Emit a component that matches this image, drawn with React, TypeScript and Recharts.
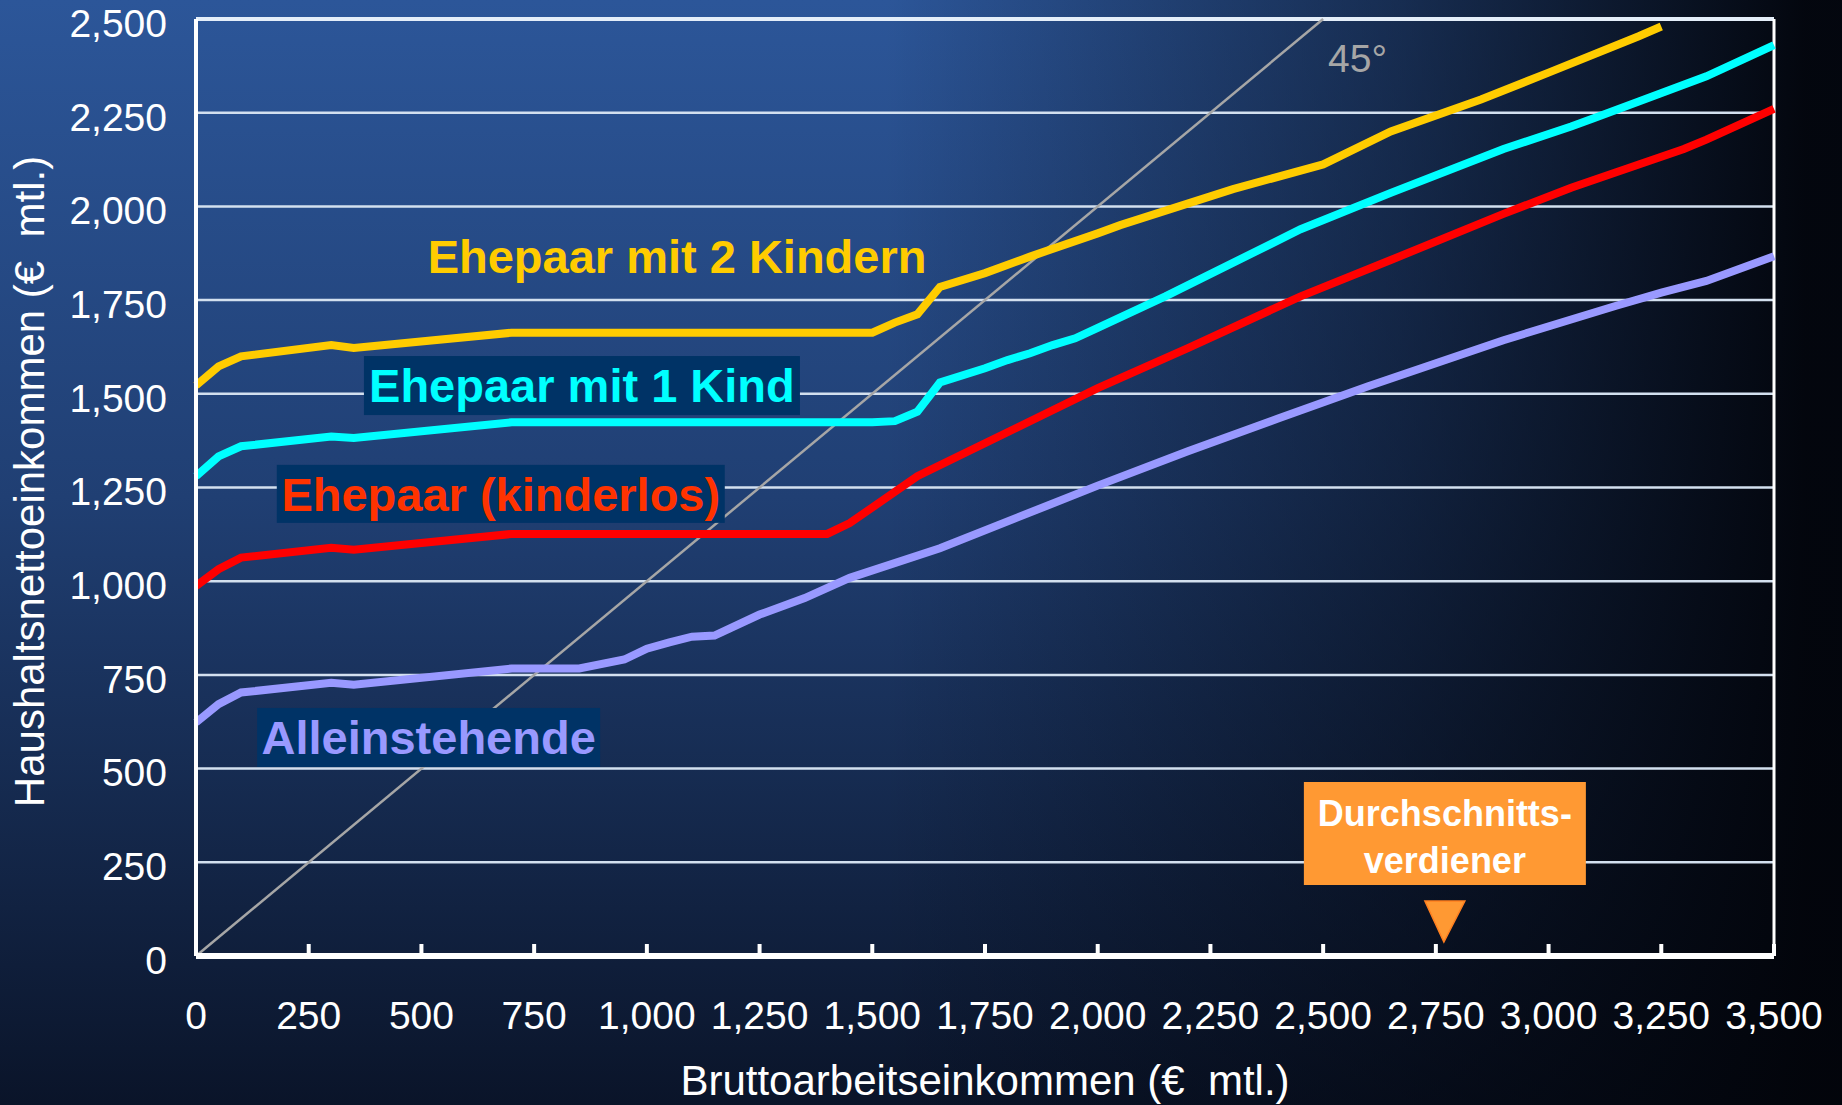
import React from "react";
import {
  LineChart,
  Line,
  XAxis,
  YAxis,
  CartesianGrid,
  ReferenceLine,
  ReferenceDot,
  Label,
} from "recharts";

// Bruttoarbeitseinkommen (x) -> Haushaltsnettoeinkommen (y)
const ehepaarZweiKinder: [number, number][] = [
  [0, 1522], [50, 1573], [100, 1600], [300, 1630], [350, 1622], [700, 1663],
  [1500, 1663], [1550, 1690], [1600, 1712], [1650, 1785], [1750, 1822],
  [1850, 1866], [2000, 1928], [2050, 1950], [2300, 2046], [2500, 2112],
  [2650, 2200], [2850, 2285], [3000, 2357], [3200, 2454], [3250, 2480],
];

const ehepaarEinKind: [number, number][] = [
  [0, 1280], [50, 1333], [100, 1360], [300, 1386], [350, 1382], [700, 1424],
  [1500, 1424], [1550, 1427], [1600, 1452], [1650, 1530], [1750, 1568],
  [1800, 1590], [1850, 1608], [1900, 1630], [1950, 1648], [2000, 1676],
  [2150, 1760], [2450, 1939], [2650, 2036], [2900, 2153], [3050, 2213],
  [3100, 2235], [3200, 2280], [3350, 2347], [3500, 2430],
];

const ehepaarKinderlos: [number, number][] = [
  [0, 987], [50, 1032], [100, 1063], [300, 1089], [350, 1084], [700, 1126],
  [1400, 1126], [1450, 1155], [1600, 1280], [2000, 1515], [2200, 1622],
  [2450, 1760], [2650, 1857], [2900, 1980], [3050, 2050], [3200, 2112],
  [3300, 2153], [3350, 2178], [3500, 2260],
];

const alleinstehende: [number, number][] = [
  [0, 623], [50, 672], [100, 703], [300, 729], [350, 724], [700, 767],
  [850, 767], [950, 791], [1000, 820], [1050, 837], [1100, 852], [1150, 855],
  [1250, 911], [1350, 955], [1450, 1009], [1650, 1088], [2000, 1255],
  [2200, 1347], [2400, 1434], [2600, 1520], [2900, 1643], [3150, 1735],
  [3250, 1770], [3350, 1801], [3500, 1867],
];

const xTicks = [0, 250, 500, 750, 1000, 1250, 1500, 1750, 2000, 2250, 2500, 2750, 3000, 3250, 3500];
const yTicks = [0, 250, 500, 750, 1000, 1250, 1500, 1750, 2000, 2250, 2500];

const durchschnittsverdiener = 2770;

// merge the four series into one table keyed by gross income
const seriesMap: Record<string, [number, number][]> = {
  zwei: ehepaarZweiKinder,
  eins: ehepaarEinKind,
  kinderlos: ehepaarKinderlos,
  allein: alleinstehende,
};
const xs = Array.from(
  new Set(Object.values(seriesMap).flatMap((s) => s.map((p) => p[0])))
).sort((a, b) => a - b);
const data = xs.map((x) => {
  const row: Record<string, number | null> = { x };
  for (const key of Object.keys(seriesMap)) {
    const hit = seriesMap[key].find((p) => p[0] === x);
    row[key] = hit ? hit[1] : null;
  }
  return row;
});

const FONT = "'Liberation Sans', Arial, Helvetica, sans-serif";
const fmt = (v: number) => v.toLocaleString("en-US");

// y tick labels sit a few px below their grid line on the slide
const YTick = (props: any) => {
  const { x, y, payload } = props;
  return (
    <text x={x} y={y + 4} dy="0.355em" textAnchor="end" fill="#FFFFFF" fontSize={39} fontFamily={FONT}>
      {fmt(payload.value)}
    </text>
  );
};

const boxLabel = (text: string, color: string, w: number, h: number, box = true) =>
  (props: any) => {
    const { cx, cy } = props;
    return (
      <g>
        {box && <rect x={cx - w / 2} y={cy - h / 2} width={w} height={h} fill="#003366" />}
        <text
          x={cx}
          y={cy}
          dy="0.36em"
          textAnchor="middle"
          fill={color}
          fontFamily={FONT}
          fontWeight="bold"
          fontSize={47}
        >
          {text}
        </text>
      </g>
    );
  };

const averageMarker = (props: any) => {
  const { cx, cy } = props;
  return (
    <g>
      <rect x={cx - 141} y={cy - 174} width={282} height={103} fill="#FF9933" />
      <text x={cx} y={cy - 143} dy="0.36em" textAnchor="middle" fill="#fff" fontFamily={FONT} fontWeight="bold" fontSize={36}>
        Durchschnitts-
      </text>
      <text x={cx} y={cy - 96} dy="0.36em" textAnchor="middle" fill="#fff" fontFamily={FONT} fontWeight="bold" fontSize={36}>
        verdiener
      </text>
      <polygon
        points={`${cx - 20},${cy - 55} ${cx + 20},${cy - 55} ${cx - 1},${cy - 14}`}
        fill="#FF9933"
        stroke="#FF7F1F"
        strokeWidth={1.5}
      />
    </g>
  );
};

const degreeText = (props: any) => (
  <text x={props.cx} y={props.cy} textAnchor="start" fill="#A6A6A6" fontFamily={FONT} fontSize={39}>
    45°
  </text>
);

export default function App() {
  return (
    <div
      style={{
        position: "absolute",
        left: 0,
        top: 0,
        width: 1842,
        height: 1105,
        overflow: "hidden",
        background:
          "linear-gradient(to right, rgba(2,4,10,0) 0%, rgba(2,4,10,0) 48%, rgba(2,4,10,0.5) 76%, rgba(2,4,10,0.97) 98%), linear-gradient(to bottom, #2c5699 0%, #203f73 45%, #0a1429 100%)",
      }}
    >
      <LineChart
        width={1842}
        height={1105}
        data={data}
        margin={{ top: 19, right: 68, left: 0, bottom: 0 }}
      >
        <CartesianGrid vertical={false} stroke="#D3E0EF" strokeWidth={2.5} />
        <XAxis
          type="number"
          dataKey="x"
          domain={[0, 3500]}
          ticks={xTicks}
          tickFormatter={fmt}
          height={149}
          axisLine={{ stroke: "#FFFFFF", strokeWidth: 6 }}
          tickLine={{ stroke: "#FFFFFF", strokeWidth: 4 }}
          tickSize={-12}
          tickMargin={57}
          tick={{ fill: "#FFFFFF", fontSize: 39, fontFamily: FONT }}
          interval={0}
        >
          <Label
            value={"Bruttoarbeitseinkommen (€\u00a0\u00a0mtl.)"}
            position="insideBottom"
            offset={10}
            fill="#FFFFFF"
            fontSize={42}
            fontFamily={FONT}
          />
        </XAxis>
        <YAxis
          type="number"
          domain={[0, 2500]}
          ticks={yTicks}
          width={196}
          axisLine={{ stroke: "#FFFFFF", strokeWidth: 4 }}
          tickLine={false}
          tickSize={0}
          tickMargin={29}
          tick={YTick}
          interval={0}
        >
          <Label
            content={({ viewBox }: any) => (
              <text
                x={viewBox.x + 44}
                y={viewBox.y + viewBox.height / 2 - 6}
                transform={`rotate(-90, ${viewBox.x + 44}, ${viewBox.y + viewBox.height / 2 - 6})`}
                textAnchor="middle"
                fill="#FFFFFF"
                fontSize={42}
                fontFamily={FONT}
              >
                {"Haushaltsnettoeinkommen (€\u00a0\u00a0mtl.)"}
              </text>
            )}
          />
        </YAxis>

        <ReferenceLine y={2500} stroke="#E4EEF9" strokeWidth={4} />
        <ReferenceLine x={3500} stroke="#FFFFFF" strokeWidth={3} />
        <ReferenceLine
          segment={[{ x: 0, y: 0 }, { x: 2500, y: 2500 }]}
          stroke="#A6A6A6"
          strokeWidth={2.5}
        />
        <ReferenceDot x={2511} y={2359} r={0} shape={degreeText} />

        <ReferenceDot x={1067} y={1868} r={0} shape={boxLabel("Ehepaar mit 2 Kindern", "#FFCC00", 520, 60, false)} />
        <ReferenceDot x={856} y={1522} r={0} shape={boxLabel("Ehepaar mit 1 Kind", "#00FFFF", 436, 59)} />
        <ReferenceDot x={676} y={1233} r={0} shape={boxLabel("Ehepaar (kinderlos)", "#FF3300", 448, 58)} />
        <ReferenceDot x={516} y={583} r={0} shape={boxLabel("Alleinstehende", "#9999FF", 343, 59)} />
        <ReferenceDot x={durchschnittsverdiener} y={0} r={0} shape={averageMarker} />

        <Line dataKey="allein" stroke="#9999FF" strokeWidth={8} dot={false} activeDot={false} connectNulls isAnimationActive={false} />
        <Line dataKey="kinderlos" stroke="#FF0000" strokeWidth={8} dot={false} activeDot={false} connectNulls isAnimationActive={false} />
        <Line dataKey="eins" stroke="#00FFFF" strokeWidth={8} dot={false} activeDot={false} connectNulls isAnimationActive={false} />
        <Line dataKey="zwei" stroke="#FFCC00" strokeWidth={8} dot={false} activeDot={false} connectNulls isAnimationActive={false} />
      </LineChart>
    </div>
  );
}
